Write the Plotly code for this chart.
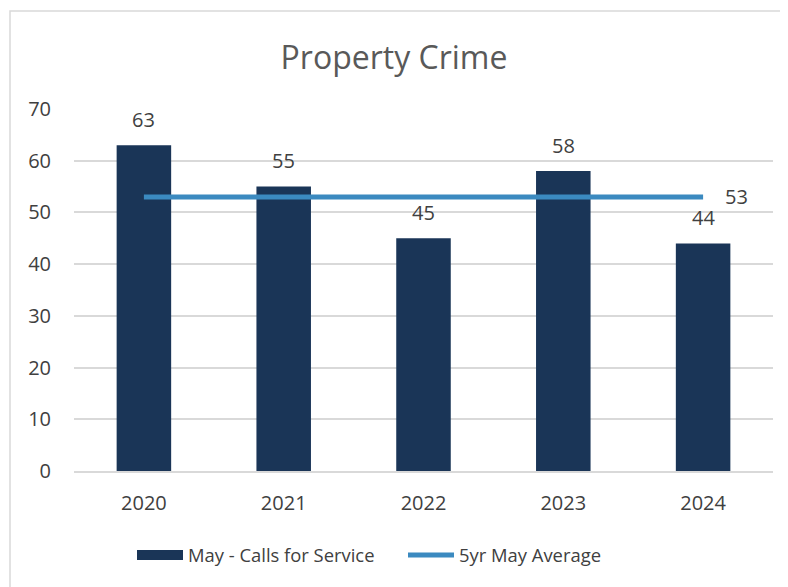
import plotly.graph_objects as go

years = [2020, 2021, 2022, 2023, 2024]
year_labels = ["2020", "2021", "2022", "2023", "2024"]
calls = [63, 55, 45, 58, 44]
avg5 = [53, 53, 53, 53, 53]
bar_name = "May - Calls for Service"
line_name = "5yr May Average"
title = "Property Crime"

FONT = "Open Sans"
TXT = "#404040"
BAR = "#1A3557"
LINE = "#3B8AC0"

fig = go.Figure()
fig.add_trace(go.Bar(x=years, y=calls, name=bar_name, marker_color=BAR,
                     marker_line_width=0, width=0.39, showlegend=False))
fig.add_trace(go.Scatter(x=[None], y=[None], name=bar_name, mode="lines",
                         line=dict(color=BAR, width=14), hoverinfo="skip"))
fig.add_trace(go.Scatter(x=years, y=avg5, name=line_name, mode="lines",
                         line=dict(color=LINE, width=5)))

for x, v in zip(years, calls):
    fig.add_annotation(x=x, y=v, text=str(v), showarrow=False, yshift=26,
                       font=dict(family=FONT, size=20, color=TXT))
fig.add_annotation(x=years[-1], y=avg5[-1], text=str(avg5[-1]), showarrow=False,
                   xshift=33, font=dict(family=FONT, size=20, color=TXT))

# chart border (page has an 8px body offset)
fig.add_shape(type="rect", xref="paper", yref="paper",
              x0=(2 - 66) / 699, x1=(800 - 66) / 699,
              y0=(463 - 600) / 362, y1=(463 - 3) / 362,
              line=dict(color="#D9D9D9", width=1.5), layer="below")

fig.update_layout(
    width=788, height=587,
    margin=dict(l=66, r=23, t=101, b=124),
    paper_bgcolor="white", plot_bgcolor="white",
    title=dict(text=title, x=386 / 788, xref="container", xanchor="center",
               y=1 - 50 / 587, yanchor="middle", yref="container",
               font=dict(family=FONT, size=32, color="#595959")),
    font=dict(family=FONT, size=18, color=TXT),
    showlegend=True,
    legend=dict(orientation="h", x=(124 - 66) / 699, xanchor="left",
                y=-(547 - 463) / 362, yanchor="middle",
                font=dict(family=FONT, size=18.4, color=TXT),
                itemwidth=46, entrywidth=210, traceorder="normal"),
)
fig.update_yaxes(range=[0, 70], dtick=10, showgrid=True, gridcolor="#D9D9D9",
                 gridwidth=1.5, zeroline=False, showline=False, ticks="",
                 ticklabelstandoff=22, tickfont=dict(family=FONT, size=20, color=TXT))
fig.update_xaxes(range=[2019.5, 2024.5], tickvals=years, ticktext=year_labels,
                 showgrid=False, showline=True, linecolor="#D9D9D9",
                 linewidth=1.5, ticks="", ticklabelstandoff=13,
                 tickfont=dict(family=FONT, size=20, color=TXT))

fig.write_html("out.html")
